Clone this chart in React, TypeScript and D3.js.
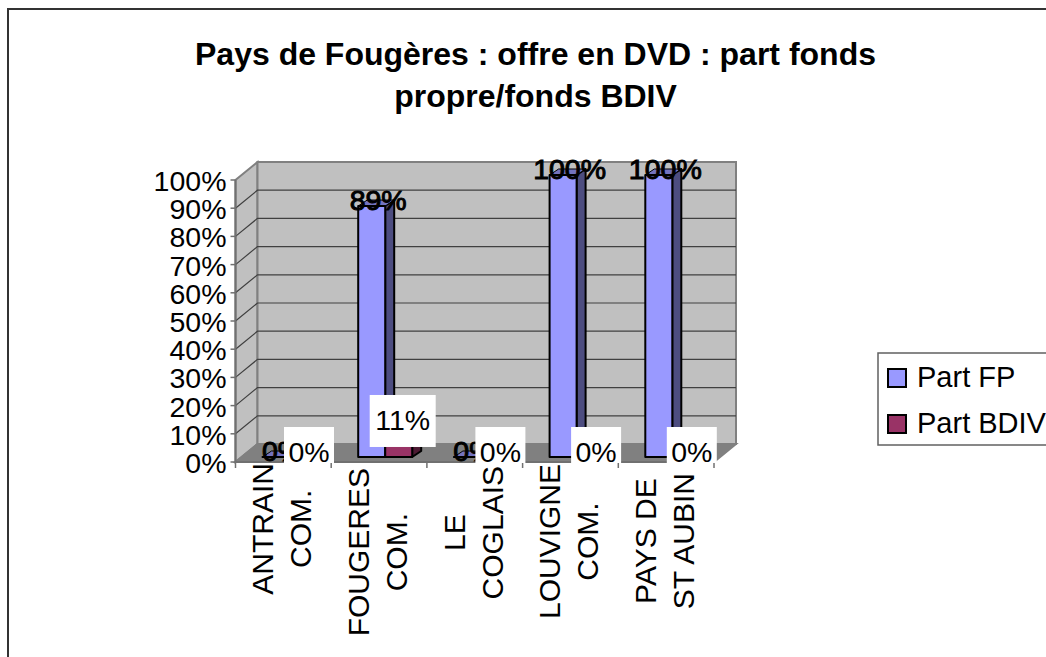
import { useEffect, useRef } from 'react';
import * as d3 from 'd3';

const categories = [['ANTRAIN', 'COM.'], ['FOUGERES', 'COM.'], ['LE', 'COGLAIS'], ['LOUVIGNE', 'COM.'], ['PAYS DE', 'ST AUBIN']];
const partFP = [0, 0.89, 0, 1, 1];
const partBDIV = [0, 0.11, 0, 0, 0];
const titleLines = ['Pays de Fougères : offre en DVD : part fonds', 'propre/fonds BDIV'];
const legendLabels = ['Part FP', 'Part BDIV'];
const FONT = '"Liberation Sans", Arial, sans-serif';

const App = () => {
    const ref = useRef<SVGSVGElement>(null);

    useEffect(() => {
        const svg = d3.select(ref.current);
        svg.selectAll('*').remove();

        const x0 = 235.5, x1 = 714, yBase = 462, yTop = 180;
        const depth = { x: 22, y: -18 };
        const x = d3.scaleBand<number>().domain(d3.range(categories.length)).range([x0, x1]);
        const y = d3.scaleLinear().domain([0, 1]).range([yBase, yTop]);
        const ticks = d3.range(0, 1.01, 0.1);
        const pct = d3.format('.0%');

        // frame
        svg.append('rect').attr('x', 8).attr('y', 9).attr('width', 1100).attr('height', 700)
            .attr('fill', 'white').attr('stroke', '#333').attr('stroke-width', 2);

        svg.selectAll('text.title').data(titleLines).enter().append('text')
            .attr('x', 535.5).attr('y', (d, i) => 65 + i * 42)
            .attr('text-anchor', 'middle').attr('font-family', FONT)
            .attr('font-size', 32).attr('font-weight', 'bold').text(d => d);

        // walls and floor
        const poly = (pts: number[][], fill: string) => svg.append('polygon')
            .attr('points', pts.map(p => p.join(',')).join(' '))
            .attr('fill', fill).attr('stroke', '#808080').attr('stroke-width', 2);
        poly([[x0, yBase], [x0 + depth.x, yBase + depth.y], [x0 + depth.x, yTop + depth.y], [x0, yTop]], '#c0c0c0');
        poly([[x0 + depth.x, yBase + depth.y], [x1 + depth.x, yBase + depth.y], [x1 + depth.x, yTop + depth.y], [x0 + depth.x, yTop + depth.y]], '#c0c0c0');
        poly([[x0, yBase], [x1, yBase], [x1 + depth.x, yBase + depth.y], [x0 + depth.x, yBase + depth.y]], '#808080');

        // gridlines
        ticks.slice(1, -1).forEach(t => {
            svg.append('path')
                .attr('d', `M${x0},${y(t)}L${x0 + depth.x},${y(t) + depth.y}H${x1 + depth.x}`)
                .attr('fill', 'none').attr('stroke', '#404040').attr('stroke-width', 1.2);
        });

        // axes
        const axisG = svg.append('g').attr('font-family', FONT);
        axisG.append('line').attr('x1', x0).attr('x2', x0).attr('y1', yTop).attr('y2', yBase).attr('stroke', '#707070').attr('stroke-width', 2);
        axisG.append('line').attr('x1', x0).attr('x2', x1).attr('y1', yBase).attr('y2', yBase).attr('stroke', '#707070').attr('stroke-width', 2);
        ticks.forEach(t => {
            axisG.append('line').attr('x1', x0 - 5).attr('x2', x0).attr('y1', y(t)).attr('y2', y(t)).attr('stroke', '#707070').attr('stroke-width', 1.5);
            axisG.append('text').attr('x', x0 - 9).attr('y', y(t) + 11).attr('text-anchor', 'end')
                .attr('font-size', 28.5).text(pct(t));
        });
        d3.range(categories.length + 1).forEach(i => {
            const tx = x0 + i * x.bandwidth();
            axisG.append('line').attr('x1', tx).attr('x2', tx).attr('y1', yBase).attr('y2', yBase + 6).attr('stroke', '#707070').attr('stroke-width', 1.5);
        });

        // bars
        const barW = 27;
        const barDy = -5;
        const sideW = 9, sideH = -6;
        const colors = [
            { front: '#9999ff', side: '#4d4d80', top: '#7373bf' },
            { front: '#993366', side: '#4d1a33', top: '#732650' },
        ];
        const drawBar = (left: number, value: number, c: typeof colors[0]) => {
            const base = y(0) + barDy;
            const top = base - (y(0) - y(value));
            const bar = svg.append('g').attr('stroke', 'black').attr('stroke-width', 2).attr('stroke-linejoin', 'round');
            bar.append('polygon')
                .attr('points', `${left + barW},${base} ${left + barW + sideW},${base + sideH} ${left + barW + sideW},${top + sideH} ${left + barW},${top}`)
                .attr('fill', c.side);
            bar.append('polygon')
                .attr('points', `${left},${top} ${left + sideW},${top + sideH} ${left + barW + sideW},${top + sideH} ${left + barW},${top}`)
                .attr('fill', c.top).attr('stroke-width', 1);
            // a path so a 0% bar still leaves its outline
            bar.append('path').attr('d', `M${left},${top}H${left + barW}V${base}H${left}Z`).attr('fill', c.front);
        };
        categories.forEach((_, i) => {
            const left = (x(i) as number) + 27;
            drawBar(left, partFP[i], colors[0]);
            if (partBDIV[i] > 0) drawBar(left + barW, partBDIV[i], colors[1]);
        });

        // FP labels, heavier as in the original
        categories.forEach((_, i) => {
            const left = (x(i) as number) + 27;
            svg.append('text').attr('x', left + 20).attr('y', y(partFP[i]) - 1)
                .attr('text-anchor', 'middle').attr('font-family', FONT).attr('font-size', 28.5)
                .attr('stroke', 'black').attr('stroke-width', 1).text(pct(partFP[i]));
        });

        // BDIV labels on white boxes
        categories.forEach((_, i) => {
            const cx = (x(i) as number) + 73.5;
            const v = partBDIV[i];
            const h = v > 0 ? 52 : 36;
            const w = v > 0 ? 66 : 50;
            const boxTop = v > 0 ? y(v) - 36 : yBase - 35;
            const bx = v > 0 ? cx - 2 : cx;
            svg.append('rect').attr('x', bx - w / 2).attr('y', boxTop).attr('width', w).attr('height', h).attr('fill', 'white');
            svg.append('text').attr('x', bx).attr('y', boxTop + h - (v > 0 ? 17 : 1))
                .attr('text-anchor', 'middle').attr('font-family', FONT).attr('font-size', 28.5).text(pct(v));
        });

        // category labels, rotated, lines centred on the longer one
        const labelNudge = [-5, 0, -2, -4, 5]; // the original doesn't centre them evenly
        categories.forEach((lines, i) => {
            const cx = (x(i) as number) + x.bandwidth() / 2;
            const g = svg.append('g');
            const texts = lines.map(line => g.append('text')
                .attr('text-anchor', 'middle').attr('font-family', FONT).attr('font-size', 30).text(line));
            const maxLen = d3.max(texts, t => (t.node() as SVGTextElement).getComputedTextLength()) as number;
            const mid = 468 + maxLen / 2 + labelNudge[i];
            texts.forEach((t, j) => t.attr('transform', `translate(${cx - 10 + j * 38},${mid}) rotate(-90)`));
        });

        // legend
        svg.append('rect').attr('x', 878).attr('y', 353).attr('width', 300).attr('height', 92)
            .attr('fill', 'white').attr('stroke', '#606060').attr('stroke-width', 1.5);
        legendLabels.forEach((label, i) => {
            const ly = 369 + i * 46;
            svg.append('rect').attr('x', 888).attr('y', ly).attr('width', 18).attr('height', 18)
                .attr('fill', colors[i].front).attr('stroke', 'black').attr('stroke-width', 2);
            svg.append('text').attr('x', 917).attr('y', ly + 18).attr('font-family', FONT).attr('font-size', 29).text(label);
        });
    }, []);

    return <svg ref={ref} width={1046} height={657} style={{ position: 'absolute', left: 0, top: 0 }} />;
};

export default App;
